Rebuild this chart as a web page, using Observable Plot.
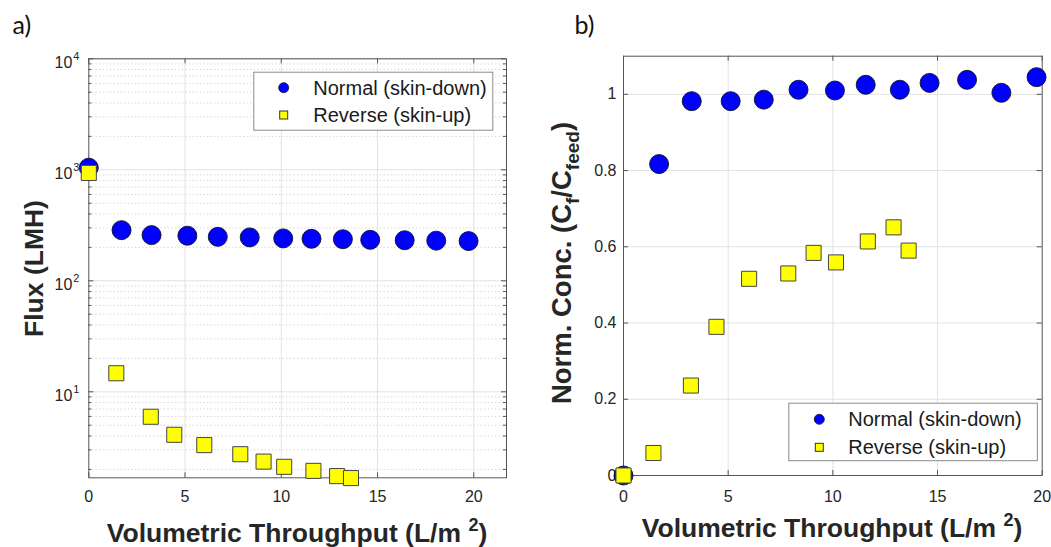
<!DOCTYPE html>
<html><head><meta charset="utf-8">
<script src="https://cdn.jsdelivr.net/npm/d3@7"></script>
<script src="https://cdn.jsdelivr.net/npm/@observablehq/plot@0.6"></script>
<style>
html,body{margin:0;padding:0;background:#fff;}
#root{position:relative;width:1051px;height:547px;overflow:hidden;background:#fff;}
#root > svg{position:absolute;}
</style></head><body><div id="root"></div>
<script>
// ---- data ----
const normalX     = [0, 1.7, 3.26, 5.12, 6.7, 8.36, 10.1, 11.57, 13.2, 14.62, 16.41, 18.05, 19.73];
const normalFlux  = [1045, 286, 258, 255, 249, 246, 241, 239, 237, 234, 232, 230, 228];
const normalConc  = [0, 0.817, 0.982, 0.982, 0.986, 1.012, 1.010, 1.025, 1.012, 1.030, 1.038, 1.004, 1.045];
const reverseX    = [0, 1.43, 3.22, 4.44, 6.0, 7.87, 9.08, 10.15, 11.67, 12.9, 13.62];
const reverseFlux = [937, 14.7, 5.96, 4.10, 3.31, 2.74, 2.35, 2.11, 1.94, 1.74, 1.67];
const reverseConc = [0, 0.059, 0.236, 0.390, 0.516, 0.530, 0.584, 0.559, 0.614, 0.651, 0.590];
const seriesNames = ["Normal (skin-down)", "Reverse (skin-up)"];
const xTicks      = [0, 5, 10, 15, 20];
const yTicksA     = [10, 100, 1000, 10000];
const yTickExpA   = ["1", "2", "3", "4"];
const yMinorA     = [2,3,4,5,6,7,8,9,20,30,40,50,60,70,80,90,200,300,400,500,600,700,800,900,2000,3000,4000,5000,6000,7000,8000,9000];
const yTicksB     = [0, 0.2, 0.4, 0.6, 0.8, 1];
const yTickLabelsB= ["0", "0.2", "0.4", "0.6", "0.8", "1"];
const panelLabels = ["a)", "b)"];

const normal  = normalX.map((x, i) => ({x, flux: normalFlux[i], conc: normalConc[i]}));
const reverse = reverseX.map((x, i) => ({x, flux: reverseFlux[i], conc: reverseConc[i]}));

const FONT = "'Liberation Sans', Arial, Helvetica, sans-serif";
const AX = "#555";
const GRID = "#e2e2e2";
const TXT = "#262626";
const baseStyle = {fontFamily: FONT, fontSize: "15.5px", color: TXT, background: "transparent", overflow: "visible"};
const dotsNormal = (yf) => Plot.dot(normal, {x: "x", y: yf, r: 9.5, fill: "#0000ff", stroke: "#10102a", strokeWidth: 0.9});
const dotsReverse = (yf) => Plot.dot(reverse, {x: "x", y: yf, symbol: "square", r: 8.5, fill: "#ffff00", stroke: "#444", strokeWidth: 1});

// ---- panel a ----
{
  const W = 520, H = 547, mL = 88.3, mR = 14, mT = 58.3, mB = 69.7;
  const fw = W - mL - mR, fh = H - mT - mB;
  const svg = Plot.plot({
    width: W, height: H, marginLeft: mL, marginRight: mR, marginTop: mT, marginBottom: mB,
    style: baseStyle,
    x: {domain: [0, 21.7], label: null},
    y: {type: "log", domain: [1.68, 10000], axis: null, label: null},
    marks: [
      Plot.ruleY(yMinorA, {stroke: "#c4c4c4", strokeDasharray: "1.2,2.4", strokeWidth: 0.8}),
      Plot.ruleY(yTicksA, {stroke: GRID}),
      Plot.ruleX(xTicks.filter(d => d > 0), {stroke: GRID}),
      Plot.frame({stroke: AX}),
      Plot.tickY(yTicksA, {insetRight: fw - 5, stroke: AX}),
      Plot.tickY(yTicksA, {insetLeft: fw - 5, stroke: AX}),
      Plot.tickY(yMinorA, {insetRight: fw - 3, stroke: AX}),
      Plot.tickY(yMinorA, {insetLeft: fw - 3, stroke: AX}),
      Plot.tickX(xTicks, {insetTop: fh - 5, stroke: AX}),
      Plot.tickX(xTicks, {insetBottom: fh - 5, stroke: AX}),
      Plot.axisX(xTicks, {tickSize: 0, tickPadding: 12.5, fontSize: 16, label: null}),
      Plot.text(yTicksA, {x: () => 0, y: d => d, text: () => "10", textAnchor: "end", dx: -16.5, dy: 4.2, fontSize: 16, fill: TXT}),
      Plot.text(yTicksA, {x: () => 0, y: d => d, text: (d, i) => yTickExpA[i], textAnchor: "start", dx: -15.6, dy: -2.4, fontSize: 11, fill: TXT}),
      dotsNormal("flux"),
      dotsReverse("flux")
    ]
  });
  svg.style.left = "0px"; svg.style.top = "0px";
  document.getElementById("root").appendChild(svg);
}

// ---- panel b ----
{
  const W = 531, H = 547, mL = 103, mR = 9.3, mT = 55.7, mB = 72;
  const fw = W - mL - mR, fh = H - mT - mB;
  const svg = Plot.plot({
    width: W, height: H, marginLeft: mL, marginRight: mR, marginTop: mT, marginBottom: mB,
    style: baseStyle,
    x: {domain: [0, 20], label: null},
    y: {domain: [0, 1.1], label: null},
    marks: [
      Plot.ruleY(yTicksB.filter(d => d > 0), {stroke: GRID}),
      Plot.ruleX(xTicks.filter(d => d > 0 && d < 20), {stroke: GRID}),
      Plot.frame({stroke: AX}),
      Plot.tickY(yTicksB, {insetRight: fw - 5, stroke: AX}),
      Plot.tickY(yTicksB, {insetLeft: fw - 5, stroke: AX}),
      Plot.tickX(xTicks, {insetTop: fh - 5, stroke: AX}),
      Plot.tickX(xTicks, {insetBottom: fh - 5, stroke: AX}),
      Plot.axisX(xTicks, {tickSize: 0, tickPadding: 15, fontSize: 16, label: null}),
      Plot.axisY(yTicksB, {tickSize: 0, tickPadding: 7, fontSize: 16, label: null, tickFormat: (d, i) => yTickLabelsB[i]}),
      dotsNormal("conc"),
      dotsReverse("conc")
    ]
  });
  svg.style.left = "520px"; svg.style.top = "0px";
  document.getElementById("root").appendChild(svg);
}

// ---- titles, panel labels and legends ----
{
  const ns = "http://www.w3.org/2000/svg";
  const ov = document.createElementNS(ns, "svg");
  ov.setAttribute("width", 1051); ov.setAttribute("height", 547);
  ov.style.left = "0px"; ov.style.top = "0px"; ov.style.pointerEvents = "none";
  const xTitle = (cx, by) => `<text x="${cx}" y="${by}" text-anchor="middle" font-family="${FONT}" font-weight="bold" font-size="26.5" fill="${TXT}">Volumetric Throughput (L/m <tspan font-size="18" dy="-11">2</tspan><tspan dy="11">)</tspan></text>`;
  const legend = (x, y, w, h, cx, cy1, cy2, tx, b1, b2) => `
    <rect x="${x}" y="${y}" width="${w}" height="${h}" fill="#fff" stroke="#8a8a8a" stroke-width="1"/>
    <circle cx="${cx}" cy="${cy1}" r="5" fill="#0000ff" stroke="#10102a" stroke-width="0.8"/>
    <rect x="${cx - 4}" y="${cy2 - 4}" width="8" height="8" fill="#ffff00" stroke="#333" stroke-width="1"/>
    <text x="${tx}" y="${b1}" font-family="${FONT}" font-size="20" fill="#1a1a1a">${seriesNames[0]}</text>
    <text x="${tx}" y="${b2}" font-family="${FONT}" font-size="20" fill="#1a1a1a">${seriesNames[1]}</text>`;
  ov.innerHTML = `
    <text x="12.5" y="34" font-family="Lato, 'Open Sans', sans-serif" font-size="25" fill="#111">${panelLabels[0]}</text>
    <text x="574.5" y="34" font-family="Lato, 'Open Sans', sans-serif" font-size="25" fill="#111">${panelLabels[1]}</text>
    ${xTitle(297, 542)}
    ${xTitle(832, 537)}
    <text transform="translate(43,268.5) rotate(-90)" text-anchor="middle" font-family="${FONT}" font-weight="bold" font-size="26.5" fill="${TXT}">Flux (LMH)</text>
    <text transform="translate(570.5,263) rotate(-90)" text-anchor="middle" font-family="${FONT}" font-weight="bold" font-size="27.5" fill="${TXT}">Norm. Conc. (C<tspan font-size="19" dy="8">f</tspan><tspan dy="-8">/C</tspan><tspan font-size="19" dy="8">feed</tspan><tspan dy="-8">)</tspan></text>
    ${legend(253.8, 72.2, 239, 58, 283.7, 87.7, 115, 313.3, 95, 122)}
    ${legend(788.8, 403.2, 248.5, 57.5, 819.3, 419.3, 447.3, 848.3, 426, 454)}
  `;
  document.getElementById("root").appendChild(ov);
}
</script></body></html>
